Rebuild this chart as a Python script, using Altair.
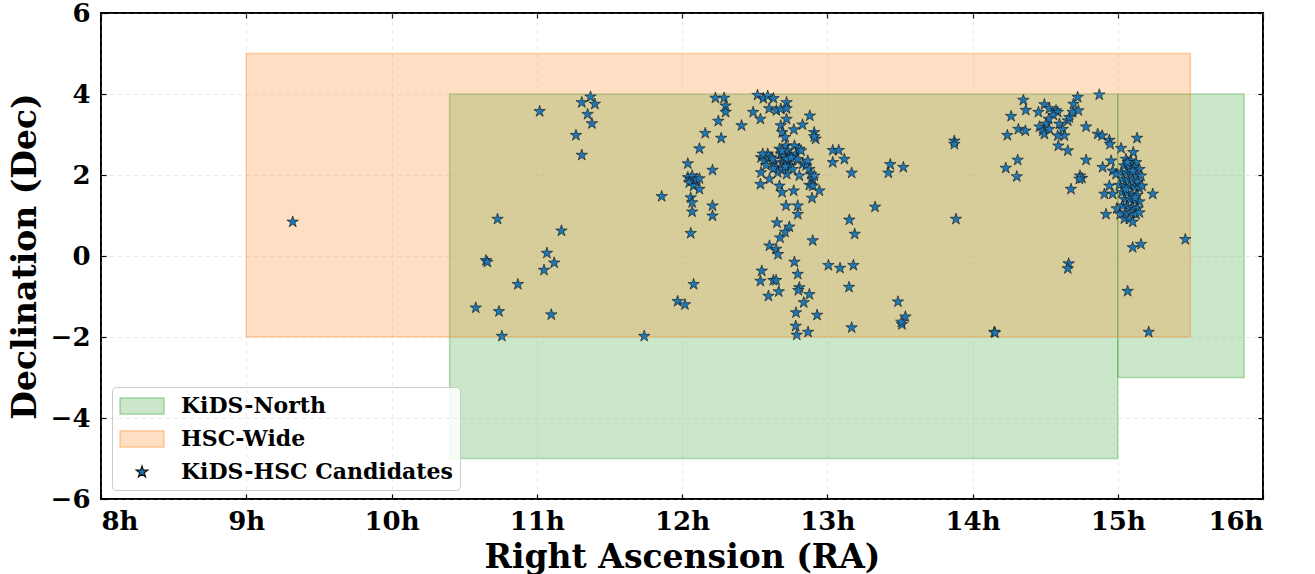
import altair as alt
import pandas as pd

# ---------------- data ----------------
cand_ra = [
    9.32,
    11.02, 11.37, 11.31, 11.40, 11.35, 11.38, 11.27, 11.31, 10.73, 11.17,
    10.65, 10.66, 11.07, 11.12, 11.05, 10.87, 10.58, 10.74, 11.10, 10.76,
    11.74, 11.86, 12.04,
    12.04, 12.06, 12.07, 12.09, 12.05, 12.08, 12.10, 12.12, 12.12, 12.06,
    12.07, 12.07, 12.06, 12.08, 11.97, 12.02, 12.21, 12.21, 12.21, 12.16,
    12.12, 12.25, 12.27, 12.23, 12.29, 12.30, 12.30,
    12.41, 12.49, 12.54, 12.52, 12.56, 12.59, 12.63, 12.60, 12.65, 12.68,
    12.72, 12.72, 12.72, 12.88, 12.83, 12.77, 12.68, 12.69, 12.71, 12.91,
    12.92, 12.91,
    12.544, 12.567, 12.590, 12.613, 12.636, 12.648, 12.671, 12.682, 12.694, 12.705,
    12.716, 12.728, 12.735, 12.739, 12.751, 12.762, 12.774, 12.785, 12.797, 12.808,
    12.820, 12.831, 12.854, 12.866, 12.877, 12.888, 12.900, 12.911, 12.544, 12.602,
    12.659, 12.721, 12.808, 12.540, 12.671, 12.689, 12.769, 12.877, 12.900, 12.946,
    12.895, 12.629, 12.579, 12.694, 12.705, 12.721, 12.689, 12.712, 12.751, 12.625,
    12.556,
    12.716, 12.797, 12.797, 12.654, 12.739, 12.710, 12.675, 12.900, 12.602, 12.648,
    12.661, 12.774, 12.797, 12.549, 12.540, 12.629, 12.648, 12.666, 12.595, 12.808,
    12.801, 12.877, 12.838, 12.785, 12.930, 12.783, 12.790, 12.868,
    13.038, 13.079, 13.118, 13.038, 13.168, 13.329, 13.152, 13.189, 13.008, 13.088,
    13.180, 13.150, 13.168, 13.434, 13.421, 13.524, 13.487, 13.538, 13.515, 13.510,
    13.875, 13.875, 13.886, 14.150,
    14.350, 14.367, 14.266, 14.240, 14.316, 14.364, 14.311, 14.229, 14.305,
    14.495, 14.529, 14.454, 14.575, 14.587, 14.557, 14.525, 14.506, 14.461, 14.484,
    14.495, 14.529, 14.598, 14.621, 14.633, 14.587, 14.591, 14.656, 14.656, 14.667,
    14.690, 14.695, 14.724, 14.729, 14.873, 14.782, 14.782, 14.862, 14.892, 14.942,
    14.947, 15.023, 15.133, 15.107,
    14.740, 14.754, 14.736, 14.678,
    14.954, 14.896, 14.965, 14.988, 14.942, 14.908, 14.965, 14.993, 14.919, 15.016,
    15.057, 15.091, 15.126, 15.046, 15.080, 15.114, 15.149, 15.023, 15.057, 15.091,
    15.126, 15.160, 15.034, 15.068, 15.103, 15.137, 15.011, 15.046, 15.080, 15.114,
    15.149, 15.029, 15.064, 15.098, 15.133, 15.167, 15.046, 15.080, 15.114, 15.149,
    15.034, 15.068, 15.103, 15.137, 15.057, 15.091, 15.126, 15.046, 15.080, 15.103,
    15.149, 15.068, 15.103, 15.057, 15.121,
    15.241, 15.103, 15.160, 15.465, 14.662, 14.656, 15.068, 14.155, 15.213,
]
cand_dec = [
    0.84,
    3.57, 3.93, 3.79, 3.75, 3.50, 3.27, 2.98, 2.49, 0.91, 0.62,
    -0.11, -0.15, 0.07, -0.17, -0.35, -0.70, -1.28, -1.37, -1.45, -1.98,
    -1.98, 1.47, 2.28,
    1.94, 1.90, 1.98, 1.86, 1.81, 1.73, 1.90, 1.91, 1.65, 1.44,
    1.32, 1.09, 0.56, -0.70, -1.12, -1.20, 2.12, 1.24, 0.99, 3.03,
    2.65, 3.33, 2.91, 3.90, 3.90, 3.71, 3.55,
    3.22, 3.55, 3.38, 3.97, 3.89, 3.95, 3.89, 3.64, 3.59, 3.63,
    3.79, 3.64, 3.38, 3.46, 3.24, 3.12, 3.22, 3.05, 2.93, 3.05,
    2.89, 2.95,
    2.43, 2.35, 2.52, 2.43, 2.31, 2.19, 2.64, 2.52, 2.39, 2.27,
    2.72, 2.60, 2.47, 2.35, 2.23, 2.14, 2.72, 2.52, 2.39, 2.64,
    2.60, 2.27, 2.23, 2.35, 2.14, 2.02, 1.90, 1.98, 2.06, 1.90,
    2.06, 2.02, 1.98, 1.77, 1.73, 1.57, 1.61, 1.75, 1.73, 1.61,
    1.43, 2.16, 2.24, 2.14, 2.47, 2.39, 2.60, 2.21, 2.43, 2.39,
    2.52,
    1.24, 1.24, 1.03, 0.82, 0.72, 0.59, 0.45, 0.38, 0.25, 0.17,
    0.04, -0.15, -0.45, -0.37, -0.62, -0.60, -0.60, -0.88, -0.99, -0.78,
    -0.85, -0.95, -1.15, -1.40, -1.46, -1.73, -1.95, -1.88,
    2.61, 2.61, 2.39, 2.31, 2.05, 1.21, 0.89, 0.54, -0.23, -0.30,
    -0.23, -0.77, -1.77, 2.26, 2.05, 2.19, -1.13, -1.50, -1.69, -1.63,
    2.84, 2.76, 0.91, -1.88,
    3.85, 3.60, 3.45, 2.98, 3.13, 3.09, 2.37, 2.17, 1.96,
    3.74, 3.64, 3.55, 3.59, 3.55, 3.48, 3.38, 3.26, 3.19, 3.09,
    3.01, 3.13, 3.26, 3.13, 2.97, 2.97, 2.72, 2.60, 3.34, 3.42,
    3.55, 3.75, 3.92, 3.59, 3.98, 3.19, 2.37, 3.01, 2.97, 2.86,
    2.76, 2.66, 2.91, 2.56,
    1.98, 1.92, 1.90, 1.65,
    2.35, 2.19, 2.10, 2.02, 1.73, 1.53, 1.53, 1.17, 1.03, 1.03,
    2.39, 2.35, 2.31, 2.23, 2.21, 2.19, 2.14, 2.06, 2.05, 2.02,
    2.00, 1.98, 1.90, 1.88, 1.86, 1.83, 1.75, 1.73, 1.72, 1.69,
    1.67, 1.57, 1.55, 1.53, 1.50, 1.73, 1.40, 1.39, 1.36, 1.34,
    1.24, 1.22, 1.20, 1.17, 1.07, 1.06, 1.03, 0.92, 0.91, 0.84,
    1.07, 2.31, 2.10, 1.65, 1.44,
    1.53, 0.21, 0.29, 0.41, -0.19, -0.31, -0.87, -1.90, -1.88,
]

region_names = ["KiDS-North", "KiDS-North", "HSC-Wide"]
region_ra_min = [10.4, 15.0, 9.0]
region_ra_max = [15.0, 15.87, 15.5]
region_dec_min = [-5.0, -3.0, -2.0]
region_dec_max = [4.0, 4.0, 5.0]
region_colors = ["#2ca02c", "#2ca02c", "#ff7f0e"]

legend_labels = ["KiDS-North", "HSC-Wide", "KiDS-HSC Candidates"]
x_ticks = [8, 9, 10, 11, 12, 13, 14, 15, 16]
y_ticks = [-6, -4, -2, 0, 2, 4, 6]

# ---------------- tables ----------------
regions = pd.DataFrame({
    "name": region_names,
    "ra_min": region_ra_min,
    "ra_max": region_ra_max,
    "dec_min": region_dec_min,
    "dec_max": region_dec_max,
    "col": region_colors,
})
cands = pd.DataFrame({
    "ra": cand_ra,
    "dec": cand_dec,
    "kind": ["KiDS-HSC Candidates"] * len(cand_ra),
})

FONT = "DejaVu Serif"
STAR = ("M0,-0.55L0.1235,-0.17L0.523,-0.17L0.1997,0.0649L0.323,0.445L0,0.21"
        "L-0.323,0.445L-0.1997,0.0649L-0.523,-0.17L-0.1235,-0.17Z")
RECT = "M-2,-0.73H2V0.73H-2Z"

xscale = alt.Scale(domain=[8, 16], nice=False, zero=False)
yscale = alt.Scale(domain=[-6, 6], nice=False, zero=False)

common_axis = dict(
    tickColor="black", tickWidth=1.2, tickSize=5, domain=False,
    labelFont=FONT, labelFontSize=26, labelFontWeight="bold", labelColor="black",
    titleFont=FONT, titleFontSize=33, titleFontWeight="bold", titleColor="black",
)

x_bottom = alt.Axis(
    orient="bottom", values=x_ticks, labelExpr="datum.value + 'h'", offset=-5,
    grid=True, gridColor="#b0b0b0", gridDash=[4, 4], gridWidth=0.8, gridOpacity=0.35,
    labelPadding=9, titlePadding=7, title="Right Ascension (RA)", zindex=1,
    **common_axis,
)
y_left = alt.Axis(
    orient="left", values=y_ticks, labelExpr="replace(datum.label, '-', '\u2212')", offset=-5,
    grid=True, gridColor="#b0b0b0", gridDash=[4, 4], gridWidth=0.8, gridOpacity=0.35,
    labelPadding=11, titlePadding=8, title="Declination (Dec)", zindex=1,
    **common_axis,
)
x_top = alt.Axis(orient="top", values=x_ticks, labels=False, grid=False, offset=-5,
                 title=None, tickColor="black", tickWidth=1.2, tickSize=5, domain=False)
y_right = alt.Axis(orient="right", values=y_ticks, labels=False, grid=False, offset=-5,
                   title=None, tickColor="black", tickWidth=1.2, tickSize=5, domain=False)

rects = alt.Chart(regions).mark_rect(
    fillOpacity=0.25, strokeOpacity=0.35, strokeWidth=1.5
).encode(
    x=alt.X("ra_min:Q", scale=xscale, axis=x_bottom),
    x2="ra_max:Q",
    y=alt.Y("dec_min:Q", scale=yscale, axis=y_left),
    y2="dec_max:Q",
    fill=alt.Fill("col:N", scale=None),
    stroke=alt.Stroke("col:N", scale=None),
)

legend = alt.Legend(
    title=None, orient="none", legendX=11, legendY=374,
    fillColor="rgba(255,255,255,0.85)", strokeColor="#cccccc", cornerRadius=4,
    padding=7, labelFont=FONT, labelFontSize=22, labelFontWeight="bold",
    labelColor="black", labelLimit=400, rowPadding=10, symbolSize=484,
    symbolOffset=11, labelOffset=27, symbolStrokeWidth=1.2,
)

points = alt.Chart(cands).mark_point(
    filled=True, size=484, strokeWidth=0.6, opacity=1
).encode(
    x=alt.X("ra:Q", scale=xscale, axis=x_top),
    y=alt.Y("dec:Q", scale=yscale, axis=y_right),
    fill=alt.Fill("kind:N", legend=legend, scale=alt.Scale(
        domain=legend_labels,
        range=["rgba(44,160,44,0.25)", "rgba(255,127,14,0.25)", "#1f77b4"])),
    stroke=alt.Stroke("kind:N", legend=legend, scale=alt.Scale(
        domain=legend_labels,
        range=["rgba(44,160,44,0.45)", "rgba(255,127,14,0.45)", "#111111"])),
    shape=alt.Shape("kind:N", legend=legend, scale=alt.Scale(
        domain=legend_labels, range=[RECT, RECT, STAR])),
)

chart = alt.layer(rects, points).resolve_axis(
    x="independent", y="independent"
).properties(
    width=1162, height=486,
    autosize=alt.AutoSizeParams(type="none"),
    padding={"left": 101, "top": 13, "right": 52, "bottom": 75},
    background="white",
).configure_view(
    stroke="black", strokeWidth=2
)

chart.save("out.html", embed_options={"renderer": "svg", "actions": False})
